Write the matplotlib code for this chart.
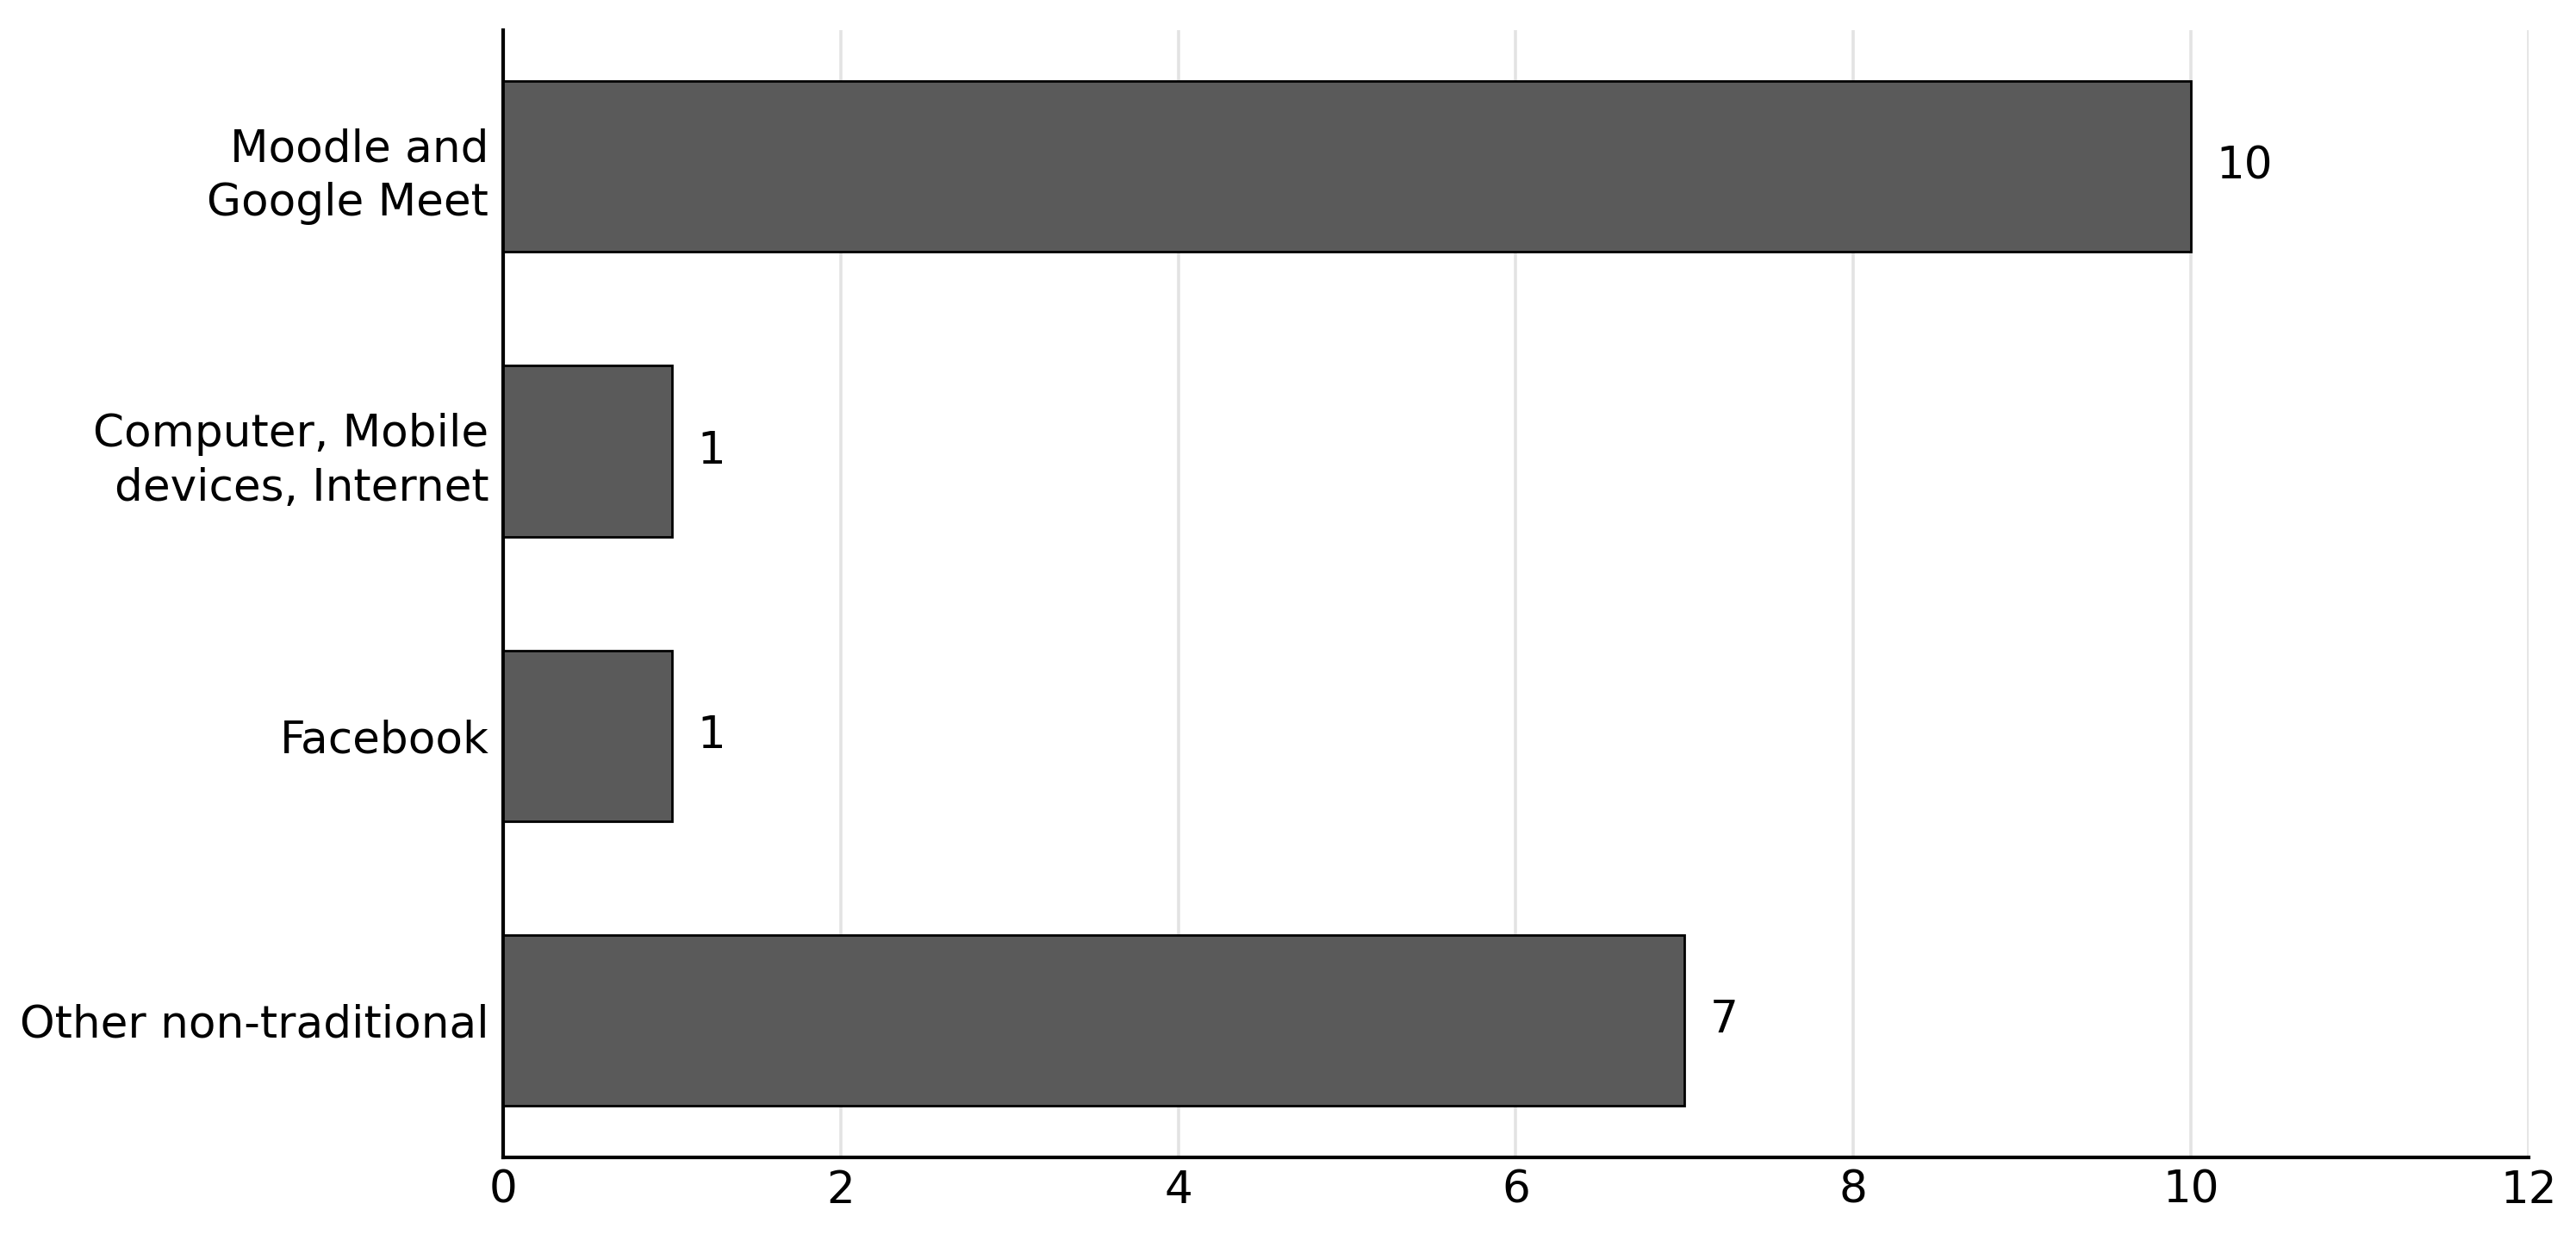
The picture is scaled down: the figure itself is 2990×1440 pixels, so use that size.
import matplotlib
matplotlib.use("Agg")
import matplotlib.pyplot as plt

categories = ["Moodle and\nGoogle Meet", "Computer, Mobile\ndevices, Internet", "Facebook", "Other non-traditional"]
values = [10, 1, 1, 7]
xticks = [0, 2, 4, 6, 8, 10, 12]

plt.rcParams['font.family'] = ['DejaVu Sans']
fig = plt.figure(figsize=(14.95, 7.2), dpi=200)
ax = fig.add_axes([0.1953, 0.0674, 0.9816 - 0.1953, 0.976 - 0.0674])

fs = 18.6
y = list(range(len(categories)))
bars = ax.barh(y, values, height=0.6, color="#5a5a5a", edgecolor="black", linewidth=1.0, zorder=3)
for yi, v in zip(y, values):
    ax.text(v + 0.15, yi, str(v), va="center", ha="left", fontsize=fs)

ax.set_yticks(y)
ax.set_yticklabels(categories, fontsize=fs, linespacing=1.32)
ax.set_xticks(xticks)
ax.set_xticklabels([str(t) for t in xticks], fontsize=fs)
ax.set_xlim(0, 12)
ax.set_ylim(3.48, -0.48)
ax.tick_params(axis="y", length=0, pad=6)
ax.tick_params(axis="x", length=0, pad=5)
ax.grid(axis="x", color="#e3e3e3", linewidth=1.3, zorder=0)
ax.set_axisbelow(True)
for s in ["top", "right"]:
    ax.spines[s].set_visible(False)
for s in ["left", "bottom"]:
    ax.spines[s].set_linewidth(1.5)
    ax.spines[s].set_color("black")

fig.savefig("out.png", dpi=200)
